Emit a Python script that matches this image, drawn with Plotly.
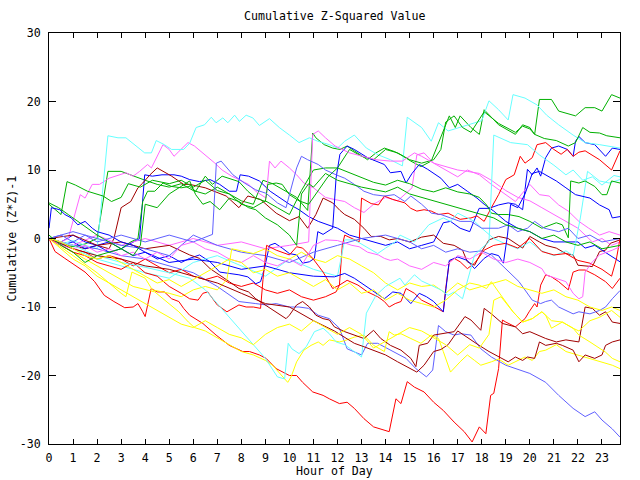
import plotly.graph_objects as go

# ---- data: (hour, cumulative value) pairs ----
x_ticks = list(range(0, 24))
y_ticks = [-30, -20, -10, 0, 10, 20, 30]

cyan_a = [(0,0),(0.5,-0.8),(1,-0.3),(1.5,-1),(2,-1.5),(2.25,8),(2.45,15),(2.87,14.7),(3.2,14.7),(3.98,12.5),(4.26,12.5),(4.46,14.3),(4.8,13.7),(5.1,13),(5.6,13),(5.85,13.9),(6.12,16.2),(6.47,16.6),(6.75,17.7),(6.95,16.9),(7.23,17.6),(7.44,16.9),(7.72,18),(7.92,17.1),(8.2,18),(8.48,17.6),(8.75,16.5),(9.17,17.5),(9.58,16.2),(10,15.1),(10.4,14),(10.83,14.7),(11.18,14.2),(11.66,13.7),(12.0,13.2),(12.3,14.2),(12.7,15.1),(13.2,13.2),(13.7,12.2),(14.2,11.5),(14.7,10.6),(14.9,17.7),(15.5,16.2),(15.9,14.2),(16.2,16.9),(16.6,15.7),(17.1,16.2),(17.7,16.9),(18,17.2),(18.3,20.1),(18.7,18.8),(19.1,17.3),(19.3,21),(19.8,20.5),(20.3,19.5),(20.7,18),(21.2,16.6),(21.8,15.1),(22.3,14),(22.9,13.7),(23.75,13.2)]
cyan_b = [(0,0),(1,-1.5),(2,-3),(3,-4),(4,-5),(5,-5.8),(6,-3.5),(7,-2.5),(8,-4),(9,-5.5),(10,-3),(11,-4.5),(12,-5.5),(12.3,-0.2),(12.7,-0.2),(13.25,-1.4),(13.67,-2.2),(14,-1.4),(14.4,-0.5),(14.6,0.5),(15.2,-0.5),(15.8,2),(16.4,3),(16.7,2.5),(17,3.7),(17.4,3),(17.7,2.5),(18,1.5),(18.5,0),(19,-0.8),(19.5,-1.5),(20,-0.5),(20.5,-1.8),(21,-2.5),(21.5,-1.8),(21.8,-2.5),(22.1,3),(22.4,9.8),(22.9,8.4),(23.3,8.1),(23.75,8.6)]
cyan_c = [(0,0),(1,-1),(2,-2.5),(3,-3.5),(4,-4.2),(5,-5),(5.85,-5.8),(6.5,-7.5),(7,-9.5),(7.5,-11.5),(8,-13.5),(8.5,-15.5),(9,-17.5),(9.5,-20.2),(9.8,-20.5),(9.95,-15.3),(10.1,-16.1),(10.4,-16.8),(10.7,-15.8),(11.04,-13.6),(11.4,-13.1),(11.66,-13.9),(11.94,-15.1),(12.3,-15.5),(12.7,-16.5),(13,-17.3),(13.2,-10.9),(13.4,-9.5),(13.6,-8.3),(14,-7),(14.6,-5.8),(14.8,-6.8),(15.2,-5.3),(15.5,-6.2),(15.9,-6.8),(16.3,-7.5),(16.6,-8.3),(16.85,-7.8),(17.2,-8.8),(17.4,-6.3),(17.55,-4.4),(17.7,-2.4),(18,-1.4),(18.3,-0.5),(18.5,15.1),(19.2,14),(19.9,13.7),(20.4,12.2),(21,10.7),(21.5,9.3),(21.8,10),(22.2,8.5),(22.6,9),(23,7.8),(23.5,9.2),(23.75,9)]

green_1 = [(0,0),(0.5,-0.8),(1,-1.2),(1.5,-0.8),(2,0),(2.45,9.8),(3,9.8),(3.5,9.1),(4,8.5),(4.5,7.9),(5,7.5),(5.5,8),(6,7),(6.5,6.5),(7,7.5),(7.5,6.5),(8,5.5),(8.5,5),(8.9,8.5),(9.3,8),(9.8,7),(10.3,6),(10.76,4.1),(10.97,15.4),(11.1,14.7),(11.45,13.7),(11.8,13.2),(12.1,13),(12.4,13.5),(12.8,12.5),(13.25,11.5),(13.6,12.5),(13.95,13.2),(14.36,12.7),(14.64,12.2),(15.05,11.3),(15.47,10.5),(15.9,11.3),(16.3,14.7),(16.65,17.9),(16.9,16.2),(17.1,17.9),(17.55,16.2),(17.9,15.2),(18.1,18.8),(18.7,16.6),(19.4,15.2),(19.7,16.6),(20,16.2),(20.2,15.2),(20.4,20.3),(20.9,20.3),(21.2,18.6),(21.9,17.9),(22.3,19.1),(22.7,19.1),(23,18.6),(23.4,21),(23.75,20.5)]
green_2 = [(0,5),(0.5,3.5),(0.75,8.3),(1.1,7.8),(1.6,6.9),(1.9,6.6),(2.25,6.2),(2.6,5.4),(3,6),(3.3,8),(3.8,7.5),(4.3,8.5),(5,8),(5.5,8.5),(6,7.5),(6.5,8.5),(7,7),(7.5,6.5),(8,5),(8.5,4.5),(9,5.5),(9.5,4.5),(10,3.5),(10.5,7),(11,10),(11.5,10.3),(12,10.3),(12.5,13),(13,12),(13.5,11.5),(14,13),(14.5,12.5),(15,11.5),(15.5,11),(16,11.5),(16.3,13),(16.5,17),(16.85,17.9),(17.2,16.2),(17.55,15.5),(17.9,17.5),(18.1,18.5),(18.7,16.8),(19.1,16),(19.4,15.5),(19.7,16.4),(20,16),(20.2,15.2),(20.6,14.6),(21.1,14.3),(21.6,13.5),(21.9,14),(22.2,16.2),(22.5,15.5),(22.9,15.4),(23.2,15),(23.75,14.7)]
green_3 = [(0,5.2),(0.4,4.5),(0.8,3.5),(1.2,2.5),(1.6,1.5),(2,0.5),(2.5,-0.5),(3,-1.5),(3.4,-0.5),(3.7,0),(3.9,5.4),(4.1,6.9),(4.4,6.9),(4.74,8.1),(5.1,7.6),(5.5,7.4),(5.85,7.6),(6.1,6.9),(6.5,9.1),(6.8,7.9),(7.2,9.1),(7.6,8.6),(7.9,8.3),(8.27,6.9),(8.6,5.9),(9,5.4),(9.1,7.9),(9.45,8.1),(9.7,7.9),(10,6.4),(10.4,5.5),(10.8,5),(11.2,7),(11.6,9),(12,10.3),(12.5,9.6),(13,8.9),(13.5,8.2),(14,7.8),(14.5,8.5),(15,8),(15.5,7.2),(16,6.8),(16.5,7.4),(17,6.8),(17.5,6.5),(17.9,6),(18.2,4.9),(18.4,3.7),(18.7,3.5),(19.1,3.5),(19.55,3.2),(20,2.5),(20.5,1.5),(21.1,2.3),(21.35,2),(21.6,0.1),(21.7,8.4),(22.04,8.1),(22.3,8.4),(22.7,7.6),(23,6.4),(23.2,6.4),(23.4,8.4),(23.75,8.1)]
green_4 = [(0,0.5),(0.5,-1),(1,-2),(1.5,-3.5),(2,-2.5),(2.5,-2),(3,-1.5),(3.5,-2.5),(3.8,-1),(4,5),(4.5,4.5),(5,6.5),(5.85,8.4),(6.1,6.4),(6.4,5),(6.7,5.4),(7.1,4.2),(7.5,5.9),(7.9,5.4),(8.3,4.5),(8.6,4.2),(9,3),(9.5,2),(10,0.5),(10.3,-1),(10.5,6.5),(10.8,8),(11,7.5),(11.5,9.5),(12,8.5),(13,7.5),(14,6.8),(14.5,7.5),(15,6.5),(16,5.5),(17,4.5),(18,3.5),(18.5,3),(19,2),(19.5,1.5),(20,1),(20.5,0),(21,0.5),(21.5,-0.5),(22,-1),(22.5,-0.5),(23,-1.5),(23.75,-1)]

blue_1 = [(0,0),(0.5,-0.5),(1,0.5),(1.5,-0.5),(2,-1),(2.5,-0.5),(3,-1.5),(3.5,-0.5),(3.77,0),(3.98,9.3),(4.3,9.1),(4.7,9.3),(5.2,9.3),(5.5,9.1),(5.85,8.6),(6.26,8.3),(6.7,8.6),(7.1,7.9),(7.5,6.9),(7.8,6.9),(7.95,9.3),(8.3,9.1),(8.75,8.4),(9.2,6.9),(9.6,5.9),(10,5),(10.4,4.2),(10.8,3.2),(11.2,2.5),(11.6,2),(12,1.5),(12.5,0.5),(13,0),(13.5,-0.5),(14,-1),(14.5,-0.5),(15,-1.5),(15.5,-1),(16,-0.5),(16.4,2.3),(16.7,2.5),(17.1,1.5),(17.5,1),(17.89,4.4),(18.3,4.4),(18.7,4.9),(19.1,5.2),(19.4,5),(19.7,4.2),(19.9,10.1),(20.1,9.3),(20.3,10.3),(20.45,9.1),(20.66,11.8),(20.9,13.2),(21.2,13.5),(21.56,13),(21.8,12),(21.9,14.2),(22.04,14.9),(22.3,14),(22.7,13.7),(23.15,12),(23.43,13.2),(23.75,13)]
blue_2 = [(0,0),(0.5,-1),(1,-0.5),(1.5,-1.5),(2,-1),(2.5,-2),(3,-1.5),(3.5,-2.5),(4,-2),(4.5,-3),(5,-2.5),(5.5,-3.5),(5.85,-2.9),(6.26,-2.4),(6.7,-3.4),(7.1,-4.9),(7.5,-5.1),(7.9,-5.3),(8.27,-5.6),(8.6,-6.6),(8.8,-6.3),(8.96,-4.4),(9.17,-1),(9.4,-0.7),(9.7,-1.4),(10,-2.2),(10.3,-2.4),(10.55,-3.6),(10.83,-3.4),(11.04,-2.9),(11.18,1),(11.4,0.6),(11.8,1.5),(11.94,8.8),(12.1,12.3),(12.4,13.5),(12.7,13),(13.25,11.8),(13.95,10.8),(14.2,9.6),(14.64,9.8),(14.85,8.1),(15.1,9.5),(15.4,10.8),(15.75,10.1),(16.3,8.8),(16.65,7.4),(17,7.9),(17.4,6.9),(17.8,5.9),(18.1,5),(18.5,4),(19,2.5),(19.5,1.5),(20,1),(20.5,0),(21,-0.5),(21.5,-0.5),(22,-0.5),(22.3,-1.4),(22.7,-1),(23,-1.7),(23.3,-2.4),(23.75,-3.4)]
blue_3 = [(0,1.5),(0.1,4.5),(0.45,4.2),(0.66,3.5),(0.93,3),(1.2,2),(1.5,2.5),(1.8,1.5),(2,1),(2.5,0.5),(3,-0.5),(3.5,-1),(4,-2),(5,-3.5),(6,-3),(7,-3.5),(8,-4.5),(9,-4),(10,-5),(11,-5.5),(11.87,-5.6),(12.3,-5.1),(12.7,-5.8),(13.1,-6.8),(13.5,-7.8),(13.95,-8.8),(14.3,-7.8),(14.64,-8),(15.05,-9.5),(15.4,-8),(15.7,-8.5),(16,-9.2),(16.4,-10.7),(16.5,-7.3),(16.65,-3.2),(17,-2.7),(17.4,-3.2),(17.7,-4.4),(17.96,-3.4),(18.1,-2.9),(18.4,-2.2),(18.7,-2.5),(18.9,-3.6),(19.07,0.5),(19.2,5),(19.5,4.5),(19.8,6.5),(20.1,9.5),(20.4,9.8),(20.66,9.3),(21.1,8.4),(21.5,7.4),(21.9,6.4),(22.5,5.9),(22.9,4.9),(23.3,4.2),(23.43,3),(23.75,3.2)]

lblue_1 = [(0,0),(1,-1),(2,-1.5),(3,-2.5),(4,-3),(5,-4),(6,-5),(7,-7),(7.9,-9.2),(8.6,-9.5),(9.03,-9.7),(9.45,-9.5),(10,-10),(10.4,-10),(10.8,-10.2),(11.2,-11.2),(11.66,-11.7),(12.08,-13.1),(12.4,-16.1),(13,-17),(13.25,-15.3),(13.67,-15.3),(14.1,-16.1),(14.5,-16.8),(14.85,-17.5),(15.26,-19),(15.7,-20.2),(15.96,-19.2),(16.2,-12.7),(16.5,-13.6),(16.85,-14.1),(17.13,-13.9),(17.55,-14.1),(17.96,-16.1),(18.4,-17.3),(19,-18.5),(19.4,-19),(20,-19.7),(20.66,-21),(21.2,-22.9),(21.8,-24.8),(22.3,-26),(22.7,-25.3),(23,-26.5),(23.43,-27.8),(23.75,-29)]
lblue_2 = [(0,0),(1,1),(2,0),(3,-1),(4,-1.5),(5,-2.5),(6,0.5),(7,-1),(8,-2),(9,-2.5),(10,-3.5),(11,-2),(12,-1),(13,0),(14,0.5),(15,-0.5),(15.5,-1.5),(16,-1),(16.5,-2),(17,-1.5),(17.5,-2),(18,-1.8),(18.4,-2.4),(19,-4.4),(19.55,-6.3),(20.1,-9),(20.45,-9.5),(20.66,-9.2),(20.9,-9),(21.2,-10),(21.5,-10.5),(21.8,-11),(22.04,-10.7),(22.5,-11),(22.9,-10.5),(23.15,-10),(23.43,-8.8),(23.75,-7.6)]
lblue_3 = [(0,0),(0.5,0.5),(1,-0.5),(1.5,0.5),(2,-0.5),(3,0.5),(4,-0.5),(5,0.5),(6,-0.5),(6.5,0.2),(6.8,0.6),(6.96,11),(7.16,11.3),(7.65,9.3),(8.13,8.1),(8.6,7.1),(9.03,6.6),(9.5,5.2),(9.86,4.5),(10,6.4),(10.3,10.3),(10.5,12),(10.76,11.5),(11.2,10.8),(11.5,10),(11.94,9.3),(12.3,8.8),(12.7,7.9),(13.1,6.9),(13.5,6.4),(13.95,6.2),(14.36,6.4),(14.8,5.4),(15.05,6.2),(15.5,5),(15.9,3.7),(16.3,3.5),(16.7,3),(17.1,2.5),(17.55,2.5),(18,1.5),(18.7,1.5),(19.1,2),(19.5,1),(19.9,1.5),(20.2,2.5),(20.6,1.5),(21.2,1),(21.6,1.5),(22,0),(22.5,0.5),(23,-0.5),(23.75,0)]

magenta_1 = [(0,0),(0.5,-0.5),(0.8,0),(1.0,2.5),(1.3,6.4),(1.5,5.9),(1.8,7.9),(2.1,7.9),(2.5,8.8),(3.2,9.6),(3.5,9.1),(3.77,9.8),(4.1,10.8),(4.26,10.3),(4.74,13.7),(5,13),(5.2,12),(5.4,12.7),(5.78,14),(6.05,13.5),(6.33,12.7),(6.9,11),(7.2,10),(7.6,9.1),(7.9,8.6),(8.3,7.9),(8.6,6.9),(9.03,5.9),(9.17,11.3),(9.4,10.3),(9.65,11.3),(10,10.3),(10.3,9.3),(10.6,8.1),(11,7.4),(11.5,6),(11.87,5.7),(12.3,5.4),(12.7,4.5),(13.1,3.8),(13.5,5),(14,6),(14.5,5.5),(15.1,7.4),(15.3,12.2),(15.6,12.5),(16,11),(16.5,10),(17,9),(17.4,10),(17.9,9.3),(18.4,7.9),(19,6.4),(19.4,5.4),(20,7.9),(20.4,6.4),(20.8,6.2),(21.2,4.9),(21.6,4),(22.04,2.5),(22.45,1.5),(22.9,0.5),(23.3,1),(23.75,0.5)]
magenta_2 = [(0,0),(1,-1),(2,0.5),(3,-1),(4,0),(5,-1),(6,0),(7,-1),(8,-0.5),(9,-1.5),(10,-1),(10.8,-0.5),(10.97,15.2),(11.2,15.7),(11.5,14.7),(11.9,13.5),(12.5,12.5),(13,12),(13.6,11.5),(14.2,11.3),(14.7,11.3),(15.2,12.5),(15.5,12),(16,11),(16.5,10.5),(17,10),(17.4,9.8),(17.9,9.5),(18.4,8.5),(19,7),(19.5,6),(20,5.5),(20.5,4.5),(21,3.5),(21.5,2.5),(22,1.5),(22.3,0.5),(22.6,-0.5),(23,0),(23.4,-1),(23.75,-0.5)]
magenta_3 = [(0,0),(0.5,-1),(1,-1.5),(1.5,-1),(2,-2),(2.5,-1.5),(3,-2.5),(3.5,-2),(4,-3),(4.5,-2),(5,-3),(5.5,-1),(6,-0.5),(6.5,-1.5),(7,-2),(7.5,-3),(8,-3.5),(8.5,-2.5),(9,-3.5),(9.5,-4),(10,-3),(10.5,-4),(11,-1),(11.5,-0.2),(12,-0.3),(12.6,-1),(12.9,-1.2),(13.25,-2),(13.7,-2.4),(13.95,-2.9),(14.2,-3.2),(14.5,-3),(15,-4),(15.5,-4.5),(16,-3.5),(16.5,-4),(17,-2.5),(17.5,-3),(18,-2),(18.5,-3),(19,-3.5),(19.5,-3),(20,-3.5),(20.5,-4.4),(20.66,-5.3),(21.1,-5.8),(21.5,-6.3),(21.8,-8),(22.04,-8.8),(22.2,-8.5),(22.3,-4.9),(22.6,-3.4),(22.9,-2.4),(23.43,-1.7),(23.75,-1.2)]

red_1 = [(0,0),(0.25,-1.9),(0.66,-2.9),(1.07,-3.9),(1.5,-4.9),(1.9,-6.3),(2.3,-8.3),(2.7,-9.2),(3.15,-10.1),(3.5,-10),(3.7,-9.5),(3.9,-10.7),(4,-11.4),(4.25,-7.3),(4.5,-7.8),(4.8,-7.8),(5.1,-8.8),(5.4,-9.2),(5.6,-10.2),(5.85,-11.2),(6.4,-12.4),(6.95,-14.1),(7.5,-15.6),(8.06,-16.5),(8.34,-16.5),(8.75,-17),(9.03,-17.5),(9.45,-19),(10,-20),(10.3,-20),(10.55,-21),(10.97,-22.4),(11.4,-22.9),(11.66,-23.4),(12.08,-24.1),(12.4,-23.9),(12.7,-24.8),(13.1,-26.3),(13.5,-27.5),(14.15,-28.2),(14.43,-23.4),(14.64,-24.1),(14.9,-20.9),(15.2,-21.7),(15.6,-22.4),(16,-23.9),(16.4,-25.1),(16.85,-26.8),(17.27,-28.2),(17.6,-29.7),(17.9,-27.5),(18.17,-28.5),(18.37,-22.9),(18.5,-22.6),(18.7,-19),(18.86,-11.9),(19,-12.2),(19.4,-12.9),(19.8,-11.7),(19.97,-10.7),(20.2,-9.5),(20.3,-10),(20.45,-6.8),(20.66,-5.3),(20.9,-5.6),(21.2,-6.3),(21.6,-7.5),(21.8,-4.9),(22.04,-4.6),(22.3,-4.6),(22.7,-5.3),(23.15,-6.3),(23.43,-7.3),(23.75,-5.8)]
red_2 = [(0,0),(0.5,-0.5),(1,-1.5),(1.5,-2),(2,-3),(2.5,-2.5),(3,-3),(3.5,-4),(4,-3),(4.5,-4),(5,-5),(5.5,-4.5),(6,-5.5),(6.5,-6),(7,-5.5),(7.5,-6.5),(8,-7),(8.5,-6.5),(9,-7.5),(9.5,-8),(10,-7.5),(10.5,-8.5),(11,-9),(11.5,-8.5),(11.94,-7.8),(12.08,-6.8),(12.2,-1),(12.3,0.5),(12.6,0),(12.9,-0.5),(13.0,5.9),(13.4,5.1),(13.7,4.9),(13.95,6.2),(14.3,5.7),(14.8,5.2),(15.05,4.4),(15.3,4),(15.6,4.2),(15.9,4),(16.2,3.5),(16.6,3.7),(17.1,2.8),(17.55,3),(17.8,3.3),(18.1,2.5),(18.4,4.5),(18.7,6.4),(19,8.6),(19.35,9.3),(19.6,12),(19.8,11),(20.1,11.8),(20.3,13.7),(20.66,14),(21,13),(21.3,12.3),(21.56,13),(21.8,12),(22.04,12.6),(22.3,12.8),(22.9,11.5),(23.4,10),(23.75,12.8)]
red_3 = [(0,0),(0.5,-1),(1,-2),(1.5,-2.5),(2,-3.5),(2.5,-4),(3,-4.5),(3.5,-3.5),(4,-5),(4.5,-5.5),(5,-7),(5.5,-8),(5.85,-8.8),(6.2,-9),(6.4,-8),(6.6,-7.8),(7,-9.7),(7.4,-10.7),(7.65,-10.2),(7.9,-9.7),(8.2,-10),(8.5,-10),(8.8,-10.2),(8.9,-6),(9.05,-1),(9.45,-1.7),(10,-2.4),(10.3,-1.2),(10.55,-1.4),(10.97,-2.9),(11.4,-4.9),(11.8,-7.3),(12.08,-6.8),(12.4,-6.1),(12.85,-6.8),(13.25,-7.8),(13.67,-8.5),(13.95,-9.2),(14.15,-10),(14.4,-9.5),(14.64,-9.2),(14.85,-7.3),(15.2,-8),(15.5,-9),(15.9,-9.7),(16.3,-10.5),(16.4,-10.7),(16.5,-7.3),(16.65,-3.4),(16.85,-2.9),(17.1,-3.4),(17.4,-4.4),(17.7,-3.6),(17.96,-2.4),(18.1,-1.7),(18.5,-1),(19,-0.7),(19.5,-1.4),(20,0),(20.5,-1.9),(21,-2.4),(21.5,-2.2),(22,-3.2),(22.5,-3.6),(23,-4.5),(23.4,-5.5),(23.6,-3),(23.75,0)]

dred_1 = [(0,0),(0.5,-0.5),(1,-1),(1.5,-1.5),(2,-1),(2.5,-1.5),(2.7,0),(3,4.5),(3.4,5.4),(3.7,7.4),(3.9,8.1),(4.2,9.3),(4.5,10.3),(4.74,9.8),(5.1,9.1),(5.6,7.9),(5.85,7.9),(6.5,7.4),(7.37,6.2),(7.9,4.5),(8.27,6.2),(8.8,5.7),(9.45,3.7),(10,2.6),(10.4,3.2),(10.76,1.5),(11.1,3.5),(11.4,5.9),(11.8,5.2),(12.1,4.1),(12.3,3.5),(12.7,2.8),(13.1,1.5),(13.4,0.3),(13.8,0.3),(14.15,-0.2),(14.5,0),(15,-0.5),(15.5,0.2),(16,0.5),(16.4,-0.7),(16.85,-1),(17.2,-1.7),(17.4,-3.4),(17.7,-3.9),(18,-1.9),(18.3,-0.2),(18.7,0.3),(19.1,0),(19.7,-1.4),(20,0.3),(20.4,-0.5),(20.66,-1),(21.1,-1.4),(21.5,-2.2),(21.8,-2.4),(22,-3.9),(22.6,-4.1),(22.9,-1.9),(23.15,-1.7),(23.35,-0.7),(23.75,-0.2)]
dred_2 = [(0,0),(1,0.5),(2,-1),(3,-0.5),(4,-1.5),(5,-1),(5.85,-2.4),(6.26,-2.9),(6.7,-4.4),(7.1,-5.3),(7.5,-6.3),(7.9,-7.3),(8.3,-7.8),(8.6,-8.8),(9,-9.7),(9.45,-10.7),(9.86,-11.7),(10,-11.2),(10.3,-9.7),(10.55,-9.2),(10.83,-10),(11.1,-11.2),(11.4,-11.7),(11.66,-11.9),(11.87,-12.9),(12.3,-13.6),(12.7,-14.1),(13.1,-14.6),(13.5,-13.4),(13.8,-14.6),(14.2,-15.6),(14.64,-16.3),(15.05,-17.5),(15.26,-18.7),(15.4,-15.6),(15.75,-15.3),(16,-14.1),(16.4,-13.9),(16.85,-13.6),(17.3,-11.4),(17.55,-11.9),(17.96,-13.4),(18.1,-10.2),(18.4,-11),(18.86,-12.4),(19.4,-12.9),(19.7,-13.9),(20,-13.6),(20.3,-14.1),(20.66,-14.6),(21.1,-15.1),(21.5,-14.8),(22.04,-15.1),(22.3,-10),(22.6,-10.2),(22.9,-11.2),(23.15,-10.7),(23.43,-12.2),(23.75,-12.4)]
dred_3 = [(0,0),(1,-1.5),(2,-2.5),(3,-3),(4,-4),(5,-4.5),(6,-5.5),(7,-6.5),(8,-8),(9,-9.5),(10,-10),(10.5,-11),(11,-12),(11.87,-13.5),(12.3,-14.5),(12.7,-15.3),(13.1,-15.8),(13.5,-16.3),(14,-17),(14.5,-18),(15,-18.9),(15.3,-19.5),(15.6,-18.5),(16,-16.5),(16.3,-16.2),(16.6,-15.5),(17,-13.5),(17.4,-14.5),(17.89,-15.6),(18.3,-16.5),(18.7,-17.3),(19.1,-18),(19.4,-17.3),(19.7,-17.8),(19.9,-17.3),(20.2,-17.5),(20.4,-15.1),(20.66,-15.6),(21.1,-15.3),(21.35,-15.6),(21.8,-16.3),(22.04,-18),(22.3,-17),(22.7,-17.5),(23,-17),(23.15,-15.6),(23.43,-15.1),(23.75,-14.8)]

yellow_1 = [(0,0),(1,-2),(2,-4),(3,-6),(3.5,-7),(4.4,-7.8),(4.9,-9.2),(5.4,-10.7),(5.8,-12.2),(6.05,-13),(6.5,-13.5),(7,-14.5),(7.5,-15.5),(8,-16.5),(8.5,-17),(9,-17.8),(9.3,-18.5),(9.7,-20),(9.93,-21),(10.07,-20.2),(10.3,-18),(10.6,-16.3),(10.9,-15.6),(11.2,-15.1),(11.4,-15.6),(11.66,-14.8),(12.08,-15.1),(12.3,-14.9),(12.7,-14.4),(13.1,-14.1),(13.5,-15.6),(13.95,-16.5),(14.15,-13.6),(14.36,-14.1),(14.64,-13.9),(15.05,-14.6),(15.47,-15.3),(15.9,-14.1),(16.2,-14.6),(16.4,-16.5),(16.7,-19.5),(17.1,-18),(17.4,-17),(17.7,-17.8),(17.96,-18.5),(18.4,-18),(18.7,-17.6),(19.1,-18.5),(19.4,-18),(19.8,-17.3),(20.1,-17.8),(20.4,-16.5),(20.66,-16.3),(21.1,-15.5),(21.5,-16.5),(22,-17),(22.5,-17.5),(23,-18),(23.43,-18.5),(23.75,-19)]
yellow_2 = [(0,0),(1,-2.5),(2,-5),(3,-8),(3.2,-8.5),(3.45,-4.9),(4,-5.8),(4.3,-7.5),(5,-8),(5.5,-8.5),(6,-7.5),(6.5,-7),(7,-7.5),(7.4,-6),(7.6,-1.5),(8,-1.8),(8.5,-2.2),(9,-1.5),(9.5,-2.5),(10,-3),(10.5,-2),(11,-3),(11.5,-3.5),(12,-2.5),(12.5,-3),(13,-4),(13.5,-5),(14,-6.5),(14.5,-7.5),(15,-6.5),(15.5,-7),(16,-6.8),(16.5,-8),(17,-6.5),(17.5,-7.5),(18,-7),(18.5,-6.5),(19,-6),(19.5,-7),(20,-7.5),(20.5,-8),(21,-7.5),(21.5,-8.5),(22,-9),(22.5,-10),(23,-10.5),(23.4,-10),(23.75,-10.5)]
yellow_3 = [(0,0),(0.5,-1.5),(1,-3),(1.5,-4),(2,-5.5),(2.5,-6.5),(3,-7.5),(3.5,-8.5),(4,-9.5),(4.5,-10.5),(5,-11.5),(5.5,-12.5),(6,-13),(6.5,-12),(7,-13),(7.5,-14),(8,-14.5),(8.5,-15.5),(9,-14),(9.5,-13),(10,-12.5),(10.5,-13.5),(11,-12),(11.5,-13),(12,-14),(12.5,-13),(13,-14),(13.5,-16),(14,-15),(14.5,-14),(15,-13),(15.5,-13.5),(16,-14.5),(16.5,-15.5),(17,-17),(17.5,-15.5),(17.9,-16),(18.3,-14),(18.5,-9),(18.8,-8.5),(19.3,-10.7),(19.7,-12.2),(20.1,-11.7),(20.5,-10.7),(20.9,-12),(21.35,-12.2),(21.8,-13.1),(22.04,-13.5),(22.5,-12),(22.9,-11.5),(23.4,-10.5),(23.75,-11.5)]
yellow_4 = [(0,0),(0.5,-0.5),(1,-1.5),(1.5,-2.5),(2,-3),(2.5,-2.5),(3,-3.5),(3.5,-4.5),(4,-5.5),(4.5,-6.5),(5,-6),(5.5,-7),(6,-6),(6.5,-5),(7,-4),(7.5,-3),(8,-3.5),(8.5,-5),(9,-4.5),(9.5,-5.5),(10,-5),(10.5,-6),(11,-7),(11.5,-6),(12,-7.5),(12.5,-6.5),(13,-8),(13.5,-7.5),(14,-9),(14.5,-8),(15,-9),(15.5,-9.5),(16,-10),(16.5,-9),(17,-7.5),(17.5,-6.5),(17.89,-6.8),(18.2,-7.3),(18.4,-6.3),(18.7,-7.8),(19,-9.2),(19.3,-10.7),(19.7,-12.2),(20.1,-11.7),(20.5,-10.7),(20.66,-11.2),(20.9,-13.1),(21.35,-12.2),(21.8,-13.1),(22.04,-14.1),(22.5,-15.1),(22.9,-16.1),(23.15,-16.6),(23.43,-17.5),(23.75,-18)]

# ---- styles ----
RED, GREEN, BLUE, MAGENTA = "#ff0000", "#00b000", "#0000ff", "#ff66ff"
CYAN, DRED, LBLUE, YELLOW = "#66ffff", "#a00000", "#6060ff", "#ffff00"

series = [
    (red_1, RED), (green_1, GREEN), (blue_1, BLUE), (magenta_1, MAGENTA), (cyan_a, CYAN),
    (dred_1, DRED), (lblue_1, LBLUE), (yellow_1, YELLOW),
    (red_2, RED), (green_2, GREEN), (blue_2, BLUE), (magenta_2, MAGENTA), (cyan_b, CYAN),
    (dred_2, DRED), (lblue_2, LBLUE), (yellow_2, YELLOW),
    (red_3, RED), (green_3, GREEN), (blue_3, BLUE), (magenta_3, MAGENTA), (cyan_c, CYAN),
    (dred_3, DRED), (lblue_3, LBLUE), (yellow_3, YELLOW),
    (green_4, GREEN), (yellow_4, YELLOW),
]

fig = go.Figure()
for pts, col in series:
    hrs = [p[0] for p in pts]
    vals = [p[1] for p in pts]
    fig.add_trace(go.Scatter(x=hrs, y=vals, mode="lines",
                             line=dict(color=col, width=1), hoverinfo="skip"))

FONT = "DejaVu Sans Mono"
FS = 11.6
axis_common = dict(showgrid=False, zeroline=False, showline=True, linecolor="black",
                   linewidth=1, mirror="ticks", ticks="inside", tickcolor="black",
                   tickfont=dict(family=FONT, size=FS, color="black"))
fig.update_xaxes(range=[0, 23.75], tickmode="array", tickvals=x_ticks,
                 ticktext=[str(t) for t in x_ticks], ticklen=5,
                 ticklabelstandoff=3, **axis_common)
fig.update_yaxes(range=[-30, 30], tickmode="array", tickvals=y_ticks,
                 ticktext=[str(t) for t in y_ticks], ticklen=7,
                 ticklabelstandoff=5, **axis_common)

fig.update_layout(
    width=640, height=480, margin=dict(l=49, r=20, t=33, b=36),
    plot_bgcolor="white", paper_bgcolor="white", showlegend=False,
    font=dict(family=FONT, size=FS, color="black"),
    annotations=[
        dict(text="Cumulative Z-Squared Value", xref="paper", yref="paper",
             x=0.5, y=1.0414, xanchor="center", yanchor="middle",
             showarrow=False, font=dict(family=FONT, size=FS)),
        dict(text="Hour of Day", xref="paper", yref="paper",
             x=0.5, y=-0.0645, xanchor="center", yanchor="middle",
             showarrow=False, font=dict(family=FONT, size=FS)),
        dict(text="Cumulative (Z*Z)-1", xref="paper", yref="paper",
             x=-0.0648, y=0.5, xanchor="center", yanchor="middle", textangle=-90,
             showarrow=False, font=dict(family=FONT, size=FS)),
    ],
)

fig.write_html("out.html")
